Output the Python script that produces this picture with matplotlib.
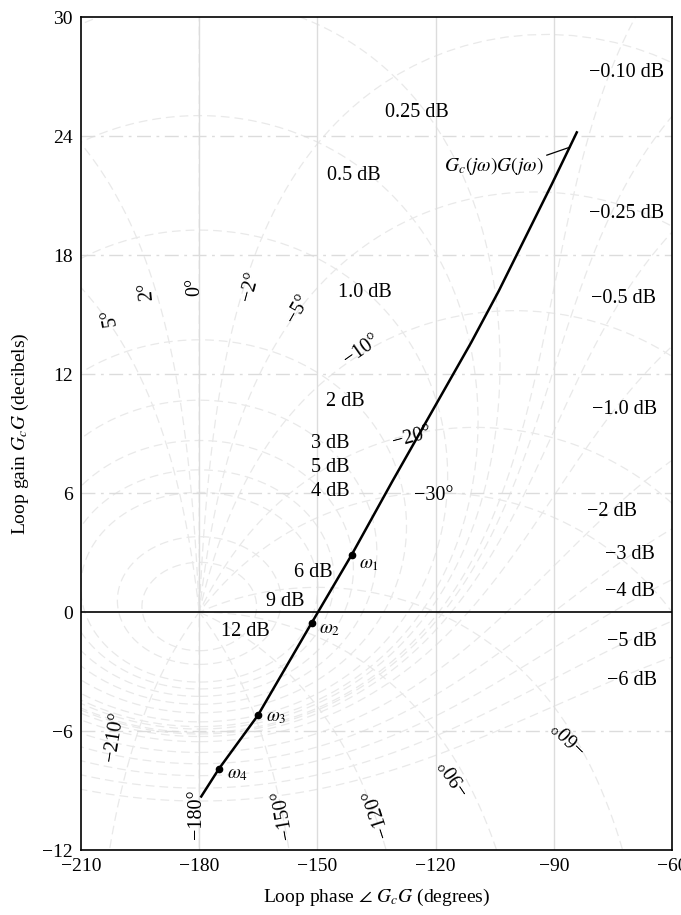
import matplotlib
matplotlib.use("Agg")
import matplotlib.pyplot as plt
import numpy as np

plt.rcParams["font.family"] = ["Liberation Serif", "DejaVu Serif"]
plt.rcParams["mathtext.fontset"] = "stix"
plt.rcParams["axes.unicode_minus"] = True

# open-loop locus Gc(jw)G(jw)
loop_phase = [-179.5, -175.0, -165.1, -151.5, -141.3, -131.0, -121.0, -111.0,
              -104.0, -97.0, -90.5, -84.2]
loop_gain = [-9.3, -7.9, -5.2, -0.55, 2.9, 6.6, 10.1, 13.6, 16.2, 19.0, 21.6, 24.2]

# marked frequencies
omega_names = [r"$\omega_1$", r"$\omega_2$", r"$\omega_3$", r"$\omega_4$"]
omega_phase = [-141.3, -151.5, -165.1, -175.0]
omega_gain = [2.9, -0.55, -5.2, -7.9]

# Nichols grid: closed-loop magnitude (dB) and phase (deg) contours
m_contours = [12, 9, 6, 5, 4, 3, 2, 1, 0.5, 0.25,
              -0.1, -0.25, -0.5, -1, -2, -3, -4, -5, -6]
n_contours = [5, 2, 0, -2, -5, -10, -20, -30, -60, -90, -120, -150, -180, -210]

x_ticks = [-210, -180, -150, -120, -90, -60]
y_ticks = [-12, -6, 0, 6, 12, 18, 24, 30]

# label text, position (phase, gain), rotation
m_labels = [
    ("0.25 dB", -124.8, 25.2, 0), ("0.5 dB", -140.7, 22.0, 0),
    ("1.0 dB", -137.9, 16.1, 0), ("2 dB", -143.0, 10.6, 0),
    ("3 dB", -146.8, 8.5, 0), ("5 dB", -146.8, 7.3, 0),
    ("4 dB", -146.8, 6.1, 0), ("6 dB", -151.1, 2.0, 0),
    ("9 dB", -158.2, 0.55, 0), ("12 dB", -168.4, -1.0, 0),
    ("\u22120.10 dB", -71.6, 27.2, 0), ("\u22120.25 dB", -71.6, 20.1, 0),
    ("\u22120.5 dB", -72.4, 15.8, 0), ("\u22121.0 dB", -72.2, 10.2, 0),
    ("\u22122 dB", -75.2, 5.1, 0), ("\u22123 dB", -70.7, 2.9, 0),
    ("\u22124 dB", -70.7, 1.05, 0), ("\u22125 dB", -70.3, -1.46, 0),
    ("\u22126 dB", -70.3, -3.46, 0),
]
n_labels = [
    ("5\u00b0", -202.6, 14.9, 100), ("2\u00b0", -193.2, 16.2, 95),
    ("0\u00b0", -181.1, 16.4, 90), ("\u22122\u00b0", -167.1, 16.4, 75),
    ("\u22125\u00b0", -154.9, 15.3, 60), ("\u221210\u00b0", -138.7, 13.2, 35),
    ("\u221220\u00b0", -126.0, 8.8, 15), ("\u221230\u00b0", -120.6, 5.9, 0),
    ("\u221260\u00b0", -85.9, -6.2, 135), ("\u221290\u00b0", -115.1, -8.2, 124),
    ("\u2212120\u00b0", -134.9, -10.1, 108), ("\u2212150\u00b0", -158.7, -10.2, 100),
    ("\u2212180\u00b0", -180.6, -10.2, 90), ("\u2212210\u00b0", -201.4, -6.3, 81),
]


def wrap_phase(L):
    ph = np.degrees(np.angle(L))
    ph = np.where(ph > 0, ph - 360, ph)
    g = 20 * np.log10(np.abs(L))
    jumps = np.where(np.abs(np.diff(ph)) > 90)[0]
    ph = np.insert(ph, jumps + 1, np.nan)
    g = np.insert(g, jumps + 1, np.nan)
    return ph, g


fig = plt.figure(figsize=(6.81, 9.15), dpi=100)
ax = fig.add_axes([0.119, 0.071, 0.868, 0.910])

# faded chart grid, as in the scanned original
grid_color = "#e9e9e9"
theta = np.linspace(-np.pi, np.pi, 4001)[1:-1]
for m in m_contours:
    T = 10 ** (m / 20) * np.exp(1j * theta)
    ph, g = wrap_phase(T / (1 - T))
    ax.plot(ph, g, color=grid_color, lw=0.9, ls=(0, (7, 4)), zorder=1)

r = np.logspace(-3, 3, 4001)
for n in n_contours:
    T = r * np.exp(1j * np.radians(n))
    ph, g = wrap_phase(T / (1 - T))
    ax.plot(ph, g, color=grid_color, lw=0.9, ls=(0, (7, 4)), zorder=1)

for x in x_ticks[1:-1]:
    ax.axvline(x, color="#dcdcdc", lw=1.0, zorder=1)
for y in y_ticks[1:-1]:
    if y != 0:
        ax.axhline(y, color="#dcdcdc", lw=1.0, ls=(0, (10, 4, 2, 4)), zorder=1)
ax.axhline(0, color="black", lw=1.2, zorder=2)

for txt, x, y, rot in m_labels + n_labels:
    ax.text(x, y, txt, fontsize=14.5, ha="center", va="center", rotation=rot,
            rotation_mode="anchor", zorder=3)

ax.plot(loop_phase, loop_gain, color="black", lw=1.8, zorder=4)
ax.plot(omega_phase, omega_gain, "o", color="black", ms=4.5, zorder=5)
offsets = [(4.4, -0.5), (4.7, -0.35), (4.6, -0.1), (4.6, -0.3)]
for name, x, y, (dx, dy) in zip(omega_names, omega_phase, omega_gain, offsets):
    ax.text(x + dx, y + dy, name, fontsize=13.5, ha="center", va="center", zorder=5)

ax.text(-105.3, 22.5, r"$G_c(j\omega)G(j\omega)$", fontsize=14,
        ha="center", va="center", zorder=5)
ax.plot([-91.8, -86.0], [23.05, 23.45], color="black", lw=0.9, zorder=5)

ax.set_xlim(-210, -60)
ax.set_ylim(-12, 30)
ax.set_xticks(x_ticks)
ax.set_yticks(y_ticks)
ax.tick_params(length=0, labelsize=14, pad=6)
for s in ax.spines.values():
    s.set_linewidth(1.2)

ax.set_xlabel(r"Loop phase $\angle$ $G_cG$ (degrees)", fontsize=14, labelpad=8)
ax.set_ylabel(r"Loop gain $G_cG$ (decibels)", fontsize=14, labelpad=8)

fig.savefig("out.png", dpi=100)
